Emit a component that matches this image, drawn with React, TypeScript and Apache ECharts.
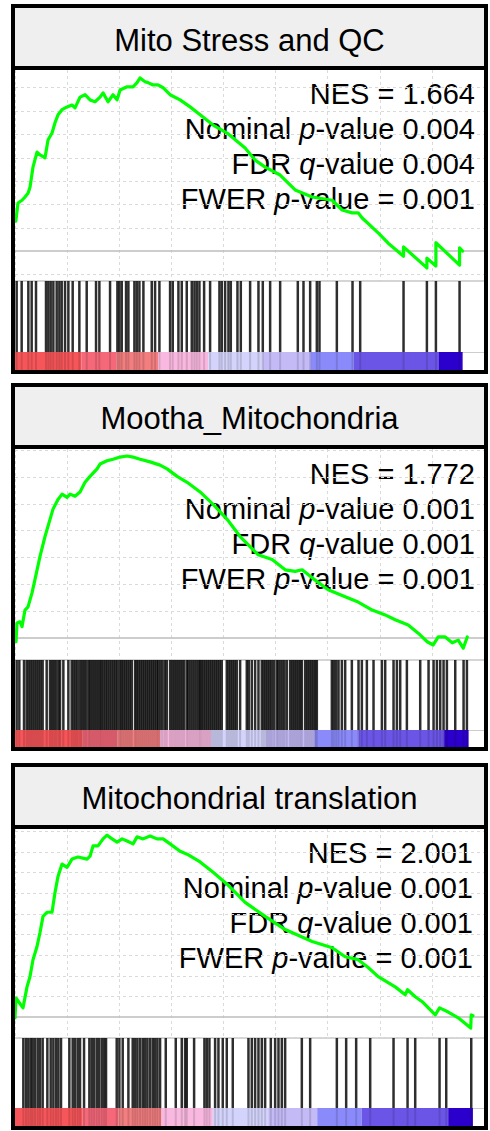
import React, { useEffect, useRef } from "react";
import * as echarts from "echarts";

const FONT = "Arial, 'Liberation Sans', Helvetica, sans-serif";

// ---------- data ----------
const panelTitles = ["Mito Stress and QC", "Mootha_Mitochondria", "Mitochondrial translation"];
const nesValues = ["1.664", "1.772", "2.001"];
const nominalP = ["0.004", "0.001", "0.001"];
const fdrQ = ["0.004", "0.001", "0.001"];
const fwerP = ["0.001", "0.001", "0.001"];
const listSizes = [17180, 17410, 17575];

// rank axis
const X_MAX = 18000;
const X_INTERVAL = 2000;

// enrichment-score axis ranges
const esMin = [-0.064, -0.041, -0.051];
const esMax = [0.388, 0.352, 0.456];
const ES_GRID = 0.05;

const mitoStressCurve: [number, number][] = [
  [30, 0.064], [115, 0.103], [269, 0.109], [384, 0.116], [499, 0.124], [576, 0.137], [691, 0.18], [845, 0.212],
  [960, 0.206], [1152, 0.2], [1267, 0.238], [1421, 0.253], [1536, 0.275], [1651, 0.292], [1805, 0.303],
  [1997, 0.309], [2189, 0.313], [2304, 0.307], [2496, 0.33], [2688, 0.335], [2880, 0.324], [3072, 0.32],
  [3264, 0.33], [3379, 0.339], [3571, 0.32], [3763, 0.335], [3917, 0.324], [4032, 0.345], [4301, 0.352],
  [4531, 0.352], [4685, 0.361], [4800, 0.371], [4992, 0.363], [5107, 0.361], [5299, 0.356], [5491, 0.356],
  [5683, 0.35], [5952, 0.335], [6336, 0.324], [6720, 0.309], [7104, 0.292], [7603, 0.27], [8141, 0.253],
  [8832, 0.221], [9216, 0.195], [9600, 0.18], [10176, 0.163], [10752, 0.131], [11405, 0.116], [12173, 0.109],
  [12557, 0.088], [12941, 0.082], [13171, 0.082], [13325, 0.071], [13939, 0.039], [14323, 0.017],
  [14912, -0.011], [14912, 0.009], [15808, -0.036], [15808, -0.015], [16154, -0.032], [16154, 0.018],
  [17062, -0.03], [17062, 0.007], [17180, 0.0],
];

const moothaCurve: [number, number][] = [
  [38, -0.007], [77, 0.028], [192, 0.03], [269, 0.021], [384, 0.052], [499, 0.058], [653, 0.084], [768, 0.109],
  [960, 0.152], [1152, 0.189], [1344, 0.221], [1459, 0.24], [1651, 0.258], [1805, 0.268], [1997, 0.262],
  [2112, 0.268], [2304, 0.264], [2496, 0.272], [2688, 0.29], [2880, 0.301], [3149, 0.315], [3264, 0.324],
  [3533, 0.33], [3763, 0.333], [4032, 0.337], [4301, 0.339], [4531, 0.337], [4800, 0.333], [5184, 0.328],
  [5568, 0.322], [5837, 0.315], [6221, 0.301], [6605, 0.29], [7104, 0.272], [7603, 0.249], [8141, 0.221],
  [8640, 0.189], [9331, 0.155], [9869, 0.146], [10368, 0.127], [10752, 0.124], [11021, 0.127], [11405, 0.112],
  [12019, 0.09], [12672, 0.077], [13171, 0.067], [13709, 0.052], [14208, 0.043], [14592, 0.034], [15091, 0.024],
  [15475, 0.009], [15821, -0.007], [16051, -0.013], [16243, 0.002], [16512, 0.002], [16781, -0.009],
  [17011, -0.004], [17203, -0.019], [17357, 0.002],
];

const translationCurve: [number, number][] = [
  [0, -0.002], [38, 0.046], [307, 0.022], [461, 0.073], [576, 0.098], [691, 0.139], [845, 0.171], [960, 0.205],
  [1075, 0.244], [1229, 0.254], [1421, 0.254], [1536, 0.302], [1651, 0.341], [1805, 0.371], [1997, 0.363],
  [2189, 0.383], [2419, 0.388], [2765, 0.383], [2880, 0.39], [2995, 0.415], [3187, 0.415], [3379, 0.432],
  [3533, 0.441], [3725, 0.432], [3917, 0.424], [4109, 0.432], [4301, 0.427], [4531, 0.42], [4685, 0.437],
  [4915, 0.432], [5184, 0.439], [5453, 0.432], [5683, 0.432], [5952, 0.42], [6336, 0.402], [6605, 0.395],
  [7104, 0.376], [7603, 0.351], [8141, 0.322], [8832, 0.278], [9600, 0.244], [10368, 0.212], [11405, 0.183],
  [12173, 0.168], [12672, 0.146], [13171, 0.139], [13555, 0.12], [13939, 0.098], [14592, 0.073], [14976, 0.054],
  [15066, 0.066], [15360, 0.049], [15629, 0.037], [16128, 0.005], [16294, 0.022], [16627, 0.012],
  [17011, -0.002], [17490, -0.027], [17510, 0.005], [17575, 0.003],
];

const mitoStressHits = [
  64, 256, 512, 640, 806, 1190, 1280, 1370, 1472, 1600, 1702, 1792, 1920, 2048, 2214, 2470, 2752, 3110, 3238,
  3648, 3930, 4006, 4096, 4262, 4352, 4582, 4672, 4774, 4928, 5248, 5376, 5542, 5952, 6054, 6272, 6400, 6592,
  6784, 6886, 6976, 7078, 7258, 7488, 7846, 7936, 8064, 8192, 8282, 8538, 8666, 9024, 9344, 9510, 9792, 10176,
  10854, 11072, 11328, 11584, 11686, 12352, 12954, 13248, 14912, 15808, 16154, 17062,
];

const moothaHits = [
  64, 166, 346, 448, 525, 602, 678, 755, 832, 909, 986, 1062, 1216, 1344, 1421, 1498, 1574, 1664, 1728, 1856,
  2048, 2176, 2253, 2330, 2406, 2496, 2573, 2650, 2726, 2816, 2880, 2957, 3034, 3110, 3187, 3264, 3328, 3405,
  3482, 3558, 3635, 3712, 3789, 3866, 3942, 4032, 4096, 4173, 4250, 4326, 4403, 4480, 4608, 4672, 4749, 4826,
  4902, 4979, 5056, 5133, 5210, 5286, 5363, 5440, 5504, 5581, 5658, 5747, 5824, 5952, 6029, 6106, 6182, 6259,
  6336, 6413, 6490, 6592, 6656, 6733, 6810, 6886, 6963, 7040, 7104, 7168, 7245, 7322, 7398, 7475, 7552, 7629,
  7706, 7782, 7859, 7936, 8128, 8205, 8282, 8358, 8435, 8512, 8640, 8896, 8973, 9088, 9216, 9344, 9472, 9549,
  9626, 9702, 9779, 9856, 9946, 10048, 10112, 10189, 10266, 10342, 10432, 10560, 10637, 10714, 10790, 10867,
  10944, 11008, 11136, 11213, 11290, 11366, 11443, 11520, 11584, 12160, 12237, 12326, 12416, 12544, 12672,
  12928, 13184, 13312, 13504, 13760, 14080, 14208, 14528, 14656, 14784, 15040, 15552, 15872, 16064, 16192,
  16320, 16448, 16576, 16896, 17216, 17344,
];

const translationHits = [
  320, 422, 512, 602, 678, 768, 870, 960, 1062, 1242, 1370, 1472, 1574, 1664, 1766, 2086, 2214, 2304, 2406,
  2496, 2650, 2854, 2944, 3034, 3136, 3226, 3328, 3418, 3494, 3904, 4006, 4134, 4352, 4518, 4608, 4698, 4800,
  4902, 4992, 5082, 5184, 5286, 5376, 5466, 5568, 5786, 6170, 6400, 6528, 6592, 6874, 7270, 7360, 7462, 7680,
  7808, 7974, 8128, 8358, 8960, 9088, 9216, 9344, 9472, 9600, 9818, 9984, 10112, 10240, 10368, 11008, 11328,
  12352, 12710, 13094, 13632, 14528, 15066, 15360, 16294, 16550, 17510,
];

// ranked-list colour bar: band breaks as fraction of the list, and band colours
const bandBreaks = [0, 0.148, 0.226, 0.32, 0.432, 0.553, 0.66, 0.757, 0.946, 1];
const bandColors = ["#f6565a", "#f4687a", "#f27e80", "#f9b8df", "#d3d3fb", "#c4baf6", "#8a8afb", "#6b55e7", "#2c00cc"];

const curves = [mitoStressCurve, moothaCurve, translationCurve];
const hitSets = [mitoStressHits, moothaHits, translationHits];

// ---------- layout ----------
const PLOT_LEFT = 15;
const PLOT_WIDTH = 469;
const layouts = [
  { frameTop: 6, frameBottom: 372, titleLine: 68, titleY: 40, plotTop: 70, sep: 281, stripTop: 352, stripBottom: 370, statsBase: 103, statsRight: 475 },
  { frameTop: 385, frameBottom: 749, titleLine: 447, titleY: 418.5, plotTop: 449, sep: 660, stripTop: 730, stripBottom: 748, statsBase: 483, statsRight: 475 },
  { frameTop: 765, frameBottom: 1128, titleLine: 827, titleY: 798.5, plotTop: 829, sep: 1038, stripTop: 1108, stripBottom: 1126, statsBase: 862, statsRight: 473 },
];

function hitSeries(hits: number[], axis: number, opacity: number, width: number, z: number) {
  return {
    type: "custom",
    xAxisIndex: axis,
    yAxisIndex: axis,
    silent: true,
    z,
    data: hits.map((h) => [h, 0]),
    encode: { x: 0, y: 1 },
    renderItem: (params: any, api: any) => {
      const cs = params.coordSys;
      const x = api.coord([api.value(0), 0])[0];
      return {
        type: "line",
        shape: { x1: x, y1: cs.y, x2: x, y2: cs.y + cs.height },
        style: { stroke: "#000", lineWidth: width, opacity },
      };
    },
  };
}

function buildOption() {
  const grid: any[] = [];
  const xAxis: any[] = [];
  const yAxis: any[] = [];
  const series: any[] = [];
  const graphic: any[] = [];

  panelTitles.forEach((title, i) => {
    const L = layouts[i];
    const g = grid.length;
    grid.push({ left: PLOT_LEFT, width: PLOT_WIDTH, top: L.plotTop, height: L.sep - L.plotTop });
    grid.push({ left: PLOT_LEFT, width: PLOT_WIDTH, top: L.sep, height: L.stripTop - L.sep });
    grid.push({ left: PLOT_LEFT, width: PLOT_WIDTH, top: L.stripTop, height: L.stripBottom - L.stripTop });

    const baseX = {
      type: "value", min: 0, max: X_MAX, interval: X_INTERVAL,
      axisTick: { show: false }, axisLabel: { show: false },
    };
    xAxis.push({ ...baseX, gridIndex: g, axisLine: { show: false },
      splitLine: { show: true, lineStyle: { color: "#dadada", type: [3, 3], width: 1 } } });
    xAxis.push({ ...baseX, gridIndex: g + 1, position: "top",
      axisLine: { show: true, onZero: false, lineStyle: { color: "#c8c8c8", width: 1.5 } }, splitLine: { show: false } });
    xAxis.push({ ...baseX, gridIndex: g + 2, position: "top",
      axisLine: { show: true, onZero: false, lineStyle: { color: "#cccccc", width: 1 } }, splitLine: { show: false } });

    yAxis.push({ type: "value", gridIndex: g, min: esMin[i], max: esMax[i], show: false });
    yAxis.push({ type: "value", gridIndex: g + 1, min: 0, max: 1, show: false });
    yAxis.push({ type: "value", gridIndex: g + 2, min: 0, max: 1, show: false });

    // horizontal grid lines (ES ticks) + zero line
    const ticks: number[] = [];
    for (let k = Math.ceil(esMin[i] / ES_GRID); k * ES_GRID <= esMax[i]; k++) {
      if (k !== 0) ticks.push(+(k * ES_GRID).toFixed(3));
    }
    series.push({
      type: "line", xAxisIndex: g, yAxisIndex: g, z: 1, silent: true,
      data: [[0, 0]], symbol: "none", lineStyle: { width: 0 },
      markLine: {
        silent: true, symbol: ["none", "none"], label: { show: false }, animation: false,
        data: [
          ...ticks.map((v) => ({ yAxis: v, lineStyle: { color: "#dadada", type: [3, 3], width: 1 } })),
          { yAxis: 0, lineStyle: { color: "#bdbdbd", type: "solid", width: 1.5 } },
        ],
      },
    });

    // running enrichment score
    series.push({
      type: "line", xAxisIndex: g, yAxisIndex: g, z: 5, silent: true,
      data: curves[i], symbol: "none", showSymbol: false,
      lineStyle: { color: "#00ff00", width: 3.2, join: "round", cap: "round" },
    });

    // barcode
    series.push(hitSeries(hitSets[i], g + 1, 0.82, 2.5, 3));

    // ranked list colour bar
    const N = listSizes[i];
    const bands = bandColors.map((_, k) => [bandBreaks[k] * N, bandBreaks[k + 1] * N, k]);
    series.push({
      type: "custom", xAxisIndex: g + 2, yAxisIndex: g + 2, silent: true, z: 2,
      data: bands, encode: { x: [0, 1] },
      renderItem: (params: any, api: any) => {
        const p1 = api.coord([api.value(0), 1]);
        const p2 = api.coord([api.value(1), 0]);
        return {
          type: "rect",
          shape: { x: p1[0], y: p1[1], width: p2[0] - p1[0], height: p2[1] - p1[1] },
          style: { fill: bandColors[api.value(2)] },
        };
      },
    });
    series.push(hitSeries(hitSets[i], g + 2, 0.13, 2, 4));

    // title box, frame
    graphic.push({ type: "rect", z: 50, shape: { x: 13, y: L.frameTop, width: 473, height: L.titleLine - L.frameTop },
      style: { fill: "#efefef" } });
    graphic.push({ type: "text", z: 60, x: 249.5, y: L.titleY,
      style: { text: title, fontSize: 31, fontFamily: FONT, fill: "#000", align: "center", verticalAlign: "middle" } });
    graphic.push({ type: "line", z: 70, shape: { x1: 11, y1: L.titleLine, x2: 488, y2: L.titleLine },
      style: { stroke: "#000", lineWidth: 4 } });
    graphic.push({ type: "rect", z: 70, shape: { x: 13, y: L.frameTop, width: 473, height: L.frameBottom - L.frameTop },
      style: { fill: "none", stroke: "#000", lineWidth: 4 } });

    // statistics
    const rich = {
      a: { fontSize: 29, fontFamily: FONT, fill: "#000" },
      b: { fontSize: 29, fontFamily: FONT, fill: "#000", fontStyle: "italic" },
    };
    const lines = [
      `{a|NES = ${nesValues[i]}}`,
      `{a|Nominal }{b|p}{a|-value ${nominalP[i]}}`,
      `{a|FDR }{b|q}{a|-value ${fdrQ[i]}}`,
      `{a|FWER }{b|p}{a|-value = ${fwerP[i]}}`,
    ];
    lines.forEach((t, k) => {
      graphic.push({
        type: "text", z: 3, x: L.statsRight, y: L.statsBase - 9 + k * 35,
        style: { text: t, rich, fontSize: 29, fontFamily: FONT, fill: "#000", align: "right", verticalAlign: "middle" },
      });
    });
  });

  return {
    animation: false,
    backgroundColor: "#fff",
    grid, xAxis, yAxis, series, graphic,
  };
}

export default function App() {
  const ref = useRef<HTMLDivElement>(null);
  useEffect(() => {
    const chart = echarts.init(ref.current!, null, { renderer: "svg" });
    chart.setOption(buildOption() as any);
    return () => chart.dispose();
  }, []);
  return (
    <div
      ref={ref}
      style={{ position: "absolute", left: 0, top: 0, width: 490, height: 1131, background: "#fff" }}
    />
  );
}
